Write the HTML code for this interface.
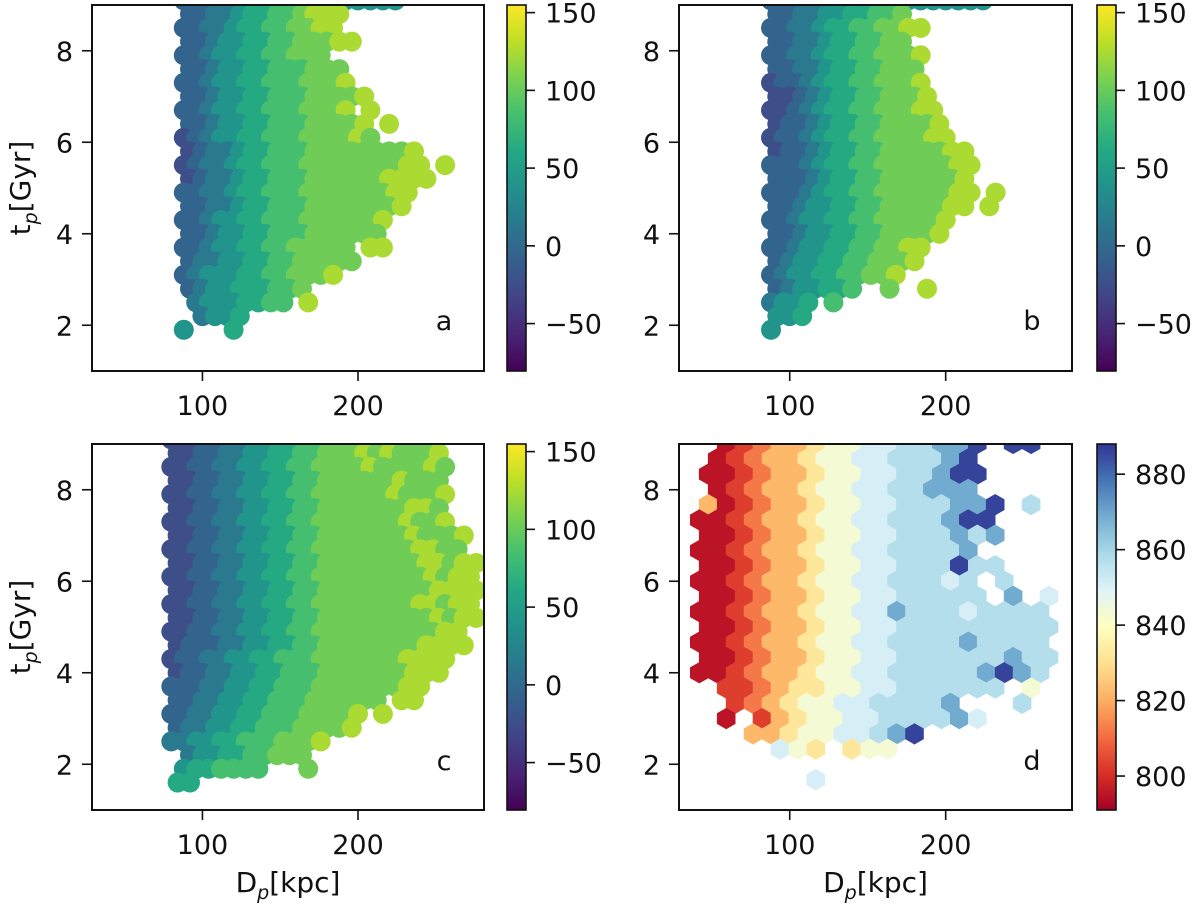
<!DOCTYPE html>
<html><head><meta charset="utf-8"><style>
html,body{margin:0;padding:0;background:#fff;}
svg{display:block;font-family:"DejaVu Sans","Liberation Sans",sans-serif;}
</style></head><body>
<svg id="fig" width="1200" height="907" viewBox="0 0 1200 907" xmlns="http://www.w3.org/2000/svg">
<defs>
<linearGradient id="gViridis" x1="0" y1="1" x2="0" y2="0">
<stop offset="0" stop-color="#440154"/><stop offset="0.1" stop-color="#482475"/><stop offset="0.2" stop-color="#414487"/><stop offset="0.3" stop-color="#355f8d"/><stop offset="0.4" stop-color="#2a788e"/><stop offset="0.5" stop-color="#21918c"/><stop offset="0.6" stop-color="#22a884"/><stop offset="0.7" stop-color="#44bf70"/><stop offset="0.8" stop-color="#7ad151"/><stop offset="0.9" stop-color="#bddf26"/><stop offset="1" stop-color="#fde725"/>
</linearGradient>
<linearGradient id="gRdYlBu" x1="0" y1="1" x2="0" y2="0">
<stop offset="0" stop-color="#a50026"/><stop offset="0.1" stop-color="#d73027"/><stop offset="0.2" stop-color="#f46d43"/><stop offset="0.3" stop-color="#fdae61"/><stop offset="0.4" stop-color="#fee090"/><stop offset="0.5" stop-color="#ffffbf"/><stop offset="0.6" stop-color="#e0f3f8"/><stop offset="0.7" stop-color="#abd9e9"/><stop offset="0.8" stop-color="#74add1"/><stop offset="0.9" stop-color="#4575b4"/><stop offset="1" stop-color="#313695"/>
</linearGradient>
</defs>
</svg>
<script>
// ---- data ----
const xTicks = [100, 200];
const yTicks = [2, 4, 6, 8];
const cbarTicks = [150, 100, 50, 0, -50];
const cbarTicksD = [880, 860, 840, 820, 800];
const scatterLevelVals = [-70, -45, -25, -5, 15, 40, 62, 85, 103, 125];
const hexLevelVals = [795, 803, 812, 822, 832, 843, 851, 857, 869, 886];
const tRowsAB = [9.1,8.8,8.5,8.2,7.9,7.6,7.3,7.0,6.7,6.4,6.1,5.8,5.5,5.2,4.9,4.6,4.3,4.0,3.7,3.4,3.1,2.8,2.5,2.2,1.9];
const tRowsC = [9.1,8.8,8.5,8.2,7.9,7.6,7.3,7.0,6.7,6.4,6.1,5.8,5.5,5.2,4.9,4.6,4.3,4.0,3.7,3.4,3.1,2.8,2.5,2.2,1.9,1.6];
const aRows = ["334445555555555555","3344566778999","3344566778899","33455667788899","334556677888","3345566777888","33455667778889","334556677788889","33455667778889.9","334556677788889.9","2345566777888898","2344566777888888889","23445667778888888899.9","23445667778888889999","3344566777888888899","334456677788888889","33455667778888889","3345566777888888","33455667788888.99","34455667788888","3455566778889","3455666778",".45556677.9",".4556","5...6"];
const bRows = ["334445555555555555","33445566778","3344566778899","33445667788","3344566778889","334456677888","2334566778889","2234566778889","22345667788899","23345667788889","233456677888899","2334566778888899","33345667788888899","3334566778888889","33345667788888899.9","3345566778888899.9","334556677888889","33455667788889","3345566778899","345566778889","34556677889","3455667..8..9","4556.7","556","5"];
const cRows = ["2233445556678889898","2233445566778889898889","22334455667788889888898","2233445566778888889888","22334455667788888898889","2233445566778888888998","22334455667788888889889","223344556677888888898889","223344556677888888889988","2233445566778888888899899","2233445566778888888889899","2233445566778888888889999","2233445566778888888899899","2233445566778888888889899","223344556677888888888899","233344556677888888889999","23344556677788888889999","2334455667778888888999","333445566777888888899","33445566777888888.99","3344556677788889.9","344556677788889","4455667778889",".4556677888",".5667777...8","66"];
const hexRowT = [9.01,8.676,8.342,8.008,7.674,7.34,7.006,6.672,6.338,6.004,5.67,5.336,5.002,4.668,4.334,4.0,3.666,3.332,2.998,2.664,2.33,1.996,1.662];
const hexRows = [".012334556677889.99.",".012334556677789....","0012334556677899....",".012334556677888....","30123345566777889.7.","00123345566777899...","00123345566777878...","0012334556677778....","00123345566777977...","0012334556677767.7..","0012334556677777.8.6","00123345566877767777","00123345566777777777","00123345566777787777","00123345566777777877","00123345566777778987",".1123445566777777.5.","..1234556677778...7.",".0.1345566777786....","...3345566789.......","....654.455.........","....................","......6............."];

// ---- helpers ----
const NS = "http://www.w3.org/2000/svg";
const svg = document.getElementById('fig');
function mk(tag, attrs, parent){ const e=document.createElementNS(NS,tag); for(const k in attrs) e.setAttribute(k,attrs[k]); (parent||svg).appendChild(e); return e; }
const XMIN=29, XMAX=281, YMIN=1, YMAX=9;
const VIR=["#440154","#482475","#414487","#355f8d","#2a788e","#21918c","#22a884","#44bf70","#7ad151","#bddf26","#fde725"];
const RDY=["#a50026","#d73027","#f46d43","#fdae61","#fee090","#ffffbf","#e0f3f8","#abd9e9","#74add1","#4575b4","#313695"];
function cmap(st,f){ f=Math.max(0,Math.min(1,f)); const p=f*10, i=Math.min(9,Math.floor(p)), u=p-i;
 const a=st[i], b=st[i+1]; const c=[1,3,5].map(j=>Math.round(parseInt(a.substr(j,2),16)*(1-u)+parseInt(b.substr(j,2),16)*u));
 return "rgb("+c.join(",")+")"; }

const panels = [
 {id:'a', x:92, y:5, w:392, h:366, cb:507, letter:'a', lx:444, ly:330, ylabel:true, xlabel:false},
 {id:'b', x:679, y:5, w:393, h:366, cb:1097, letter:'b', lx:1032, ly:330, ylabel:false, xlabel:false},
 {id:'c', x:92, y:444, w:392, h:366, cb:507, letter:'c', lx:444, ly:770, ylabel:true, xlabel:true},
 {id:'d', x:679, y:444, w:393, h:366, cb:1097, letter:'d', lx:1032, ly:770, ylabel:false, xlabel:true}
];
function sx(p,D){ return p.x + (D-XMIN)/(XMAX-XMIN)*p.w; }
function sy(p,t){ return p.y + (YMAX-t)/(YMAX-YMIN)*p.h; }

panels.forEach(p=>{
 const g = mk('g',{});
 
 
 const cp = mk('clipPath',{id:'clip'+p.id}, g);
 mk('rect',{x:p.x,y:p.y,width:p.w,height:p.h}, cp);
 const plot = mk('g',{'clip-path':'url(#clip'+p.id+')'}, g);
 
 

 if(p.id!=='d'){
  const rows = p.id==='a'?aRows:(p.id==='b'?bRows:cRows);
  const tr = p.id==='c'?tRowsC:tRowsAB;
  const d0 = p.id==='c'?80:88;
  rows.forEach((row,k)=>{
   const off = (k%2)?4:0;
   for(let i=0;i<row.length;i++){
    const ch=row[i]; if(ch==='.') continue;
    const v = scatterLevelVals[parseInt(ch)];
    const c = mk('circle',{cx:sx(p,d0+8*i+off).toFixed(1), cy:sy(p,tr[k]).toFixed(1), r:10, fill:cmap(VIR,(v+80.5)/235.5)}, plot);
    
    
   }
  });
 } else {
  const R=10.3, HW=9.0;
  hexRows.forEach((row,k)=>{
   const base = (k%2===0)?47.75:42;
   for(let i=0;i<row.length;i++){
    const ch=row[i]; if(ch==='.') continue;
    const v = hexLevelVals[parseInt(ch)];
    const cx=sx(p,base+11.5*i), cy=sy(p,hexRowT[k]);
    const pts=[[cx,cy-R],[cx+HW,cy-R/2],[cx+HW,cy+R/2],[cx,cy+R],[cx-HW,cy+R/2],[cx-HW,cy-R/2]].map(q=>q[0].toFixed(1)+","+q[1].toFixed(1)).join(" ");
    const col=cmap(RDY,(v-791)/97);
    const h = mk('polygon',{points:pts, fill:col, stroke:col, 'stroke-width':0.6}, plot);
    
    
   }
  });
 }
 const fr = mk('rect',{x:p.x,y:p.y,width:p.w,height:p.h,fill:'none',stroke:'#111','stroke-width':2}, g);
 
 
 xTicks.forEach(v=>{
  const X=sx(p,v);
  const tk = mk('line',{x1:X,y1:p.y+p.h,x2:X,y2:p.y+p.h+10,stroke:'#111','stroke-width':1.6}, g);
  
  
  const tl = mk('text',{x:X,y:p.y+p.h+44,'text-anchor':'middle','font-size':27,fill:'#111'}, g);
  tl.textContent=String(v);
  
  
 });
 yTicks.forEach(v=>{
  const Y=sy(p,v);
  const tk = mk('line',{x1:p.x-10,y1:Y,x2:p.x,y2:Y,stroke:'#111','stroke-width':1.6}, g);
  
  
  const tl = mk('text',{x:p.x-19,y:Y+10,'text-anchor':'end','font-size':27,fill:'#111'}, g);
  tl.textContent=String(v);
  
  
 });
 const lt = mk('text',{x:p.lx,y:p.ly,'text-anchor':'middle','font-size':27,fill:'#111'}, g);
 lt.textContent=p.letter;
 
 
 const cbw=19;
 const cbr = mk('rect',{x:p.cb,y:p.y,width:cbw,height:p.h,fill:p.id==='d'?'url(#gRdYlBu)':'url(#gViridis)',stroke:'#111','stroke-width':1.6}, g);
 
 
 const ticks = p.id==='d'?cbarTicksD:cbarTicks;
 ticks.forEach(v=>{
  const Y = p.id==='d' ? p.y+(888-v)/97*p.h : p.y+(154.9-v)/235.4*p.h;
  const tk = mk('line',{x1:p.cb+cbw,y1:Y,x2:p.cb+cbw+9,y2:Y,stroke:'#111','stroke-width':1.6}, g);
  
  
  const tl = mk('text',{x:p.cb+cbw+19,y:Y+10,'font-size':27,fill:'#111'}, g);
  tl.textContent = v<0 ? '\u2212'+Math.abs(v) : String(v);
  
  
 });
 if(p.ylabel){
  const cy=p.y+p.h/2;
  const yl = mk('text',{x:0,y:0,'text-anchor':'middle','font-size':28,fill:'#111',transform:'translate(30,'+cy+') rotate(-90)'}, g);
  
  
  yl.innerHTML='t<tspan font-size="19" font-style="italic" dy="7">p</tspan><tspan dy="-7">[Gyr]</tspan>';
 }
 if(p.xlabel){
  const xl = mk('text',{x:p.x+p.w/2,y:892,'text-anchor':'middle','font-size':28,fill:'#111'}, g);
  
  
  xl.innerHTML='D<tspan font-size="19" font-style="italic" dy="7">p</tspan><tspan dy="-7">[kpc]</tspan>';
 }
});
</script>
</body></html>
